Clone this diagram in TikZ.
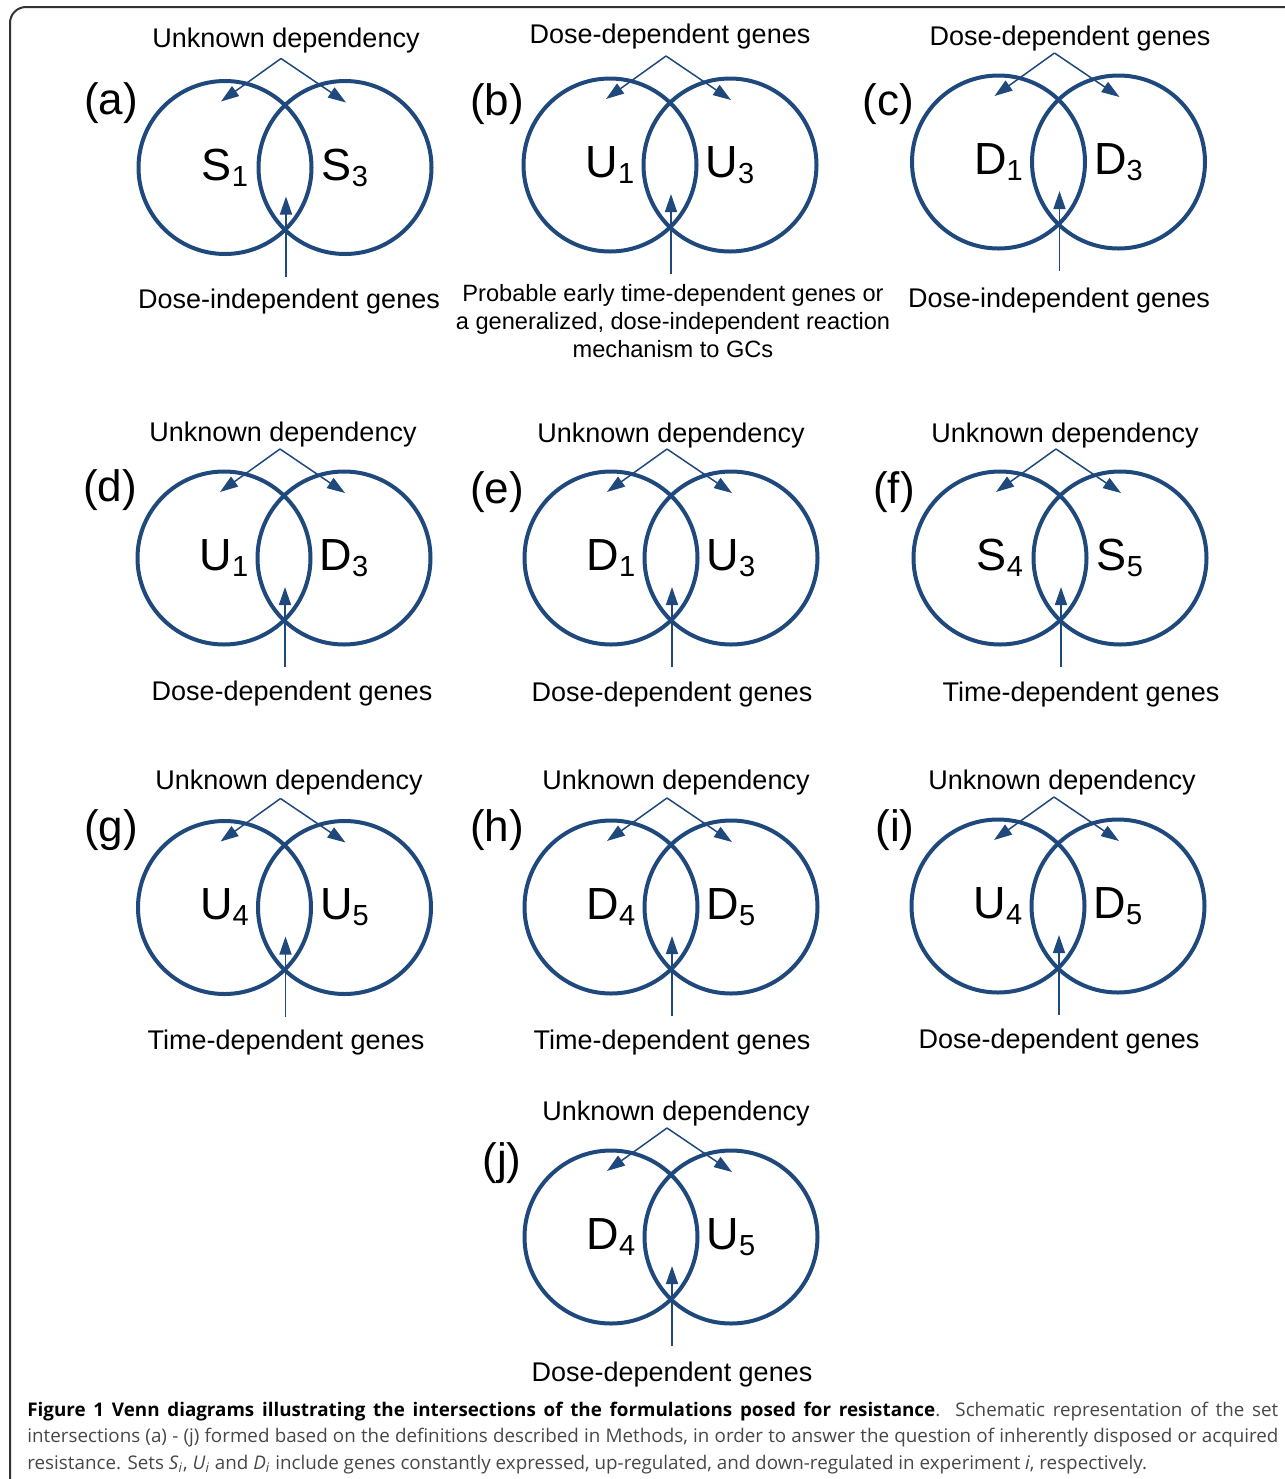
\documentclass[tikz,border=0pt]{standalone}
\usepackage{fontspec}
\setmainfont{Liberation Sans}
\newfontfamily\capfont{Open Sans}
\usepackage{xcolor}
\usetikzlibrary{arrows.meta}

\definecolor{vennblue}{RGB}{31,73,125}
\definecolor{framegray}{RGB}{51,51,51}

% set name with a lowered index
\newcommand{\setsub}[2]{#1\raisebox{-3pt}{\fontsize{14.5}{15}\selectfont #2}}
% two overlapping sets and their three pointers
\newcommand{\venn}[4]{%
  \coordinate (#1) at #2;
  \node[ring] (#1-L) at ([xshift=-30pt]#1) {};
  \node[ring] (#1-R) at ([xshift=30pt]#1) {};
  \node[setname] (#1-l) at (#1-L) {#3};
  \node[setname] (#1-r) at (#1-R) {#4};
  \coordinate (#1-apex) at ([shift={(-4,-109)}]#1);
  \coordinate (#1-tl) at ([shift={(-64,-66)}]#1);
  \coordinate (#1-tr) at ([shift={(61,-65)}]#1);
  \coordinate (#1-foot) at ([shift={(1,109)}]#1);
  \coordinate (#1-hit) at ([shift={(1,29)}]#1);
  \draw[pointer] (#1-apex) -- (#1-tl);
  \draw[pointer] (#1-apex) -- (#1-tr);
  \draw[pointer] (#1-foot) -- (#1-hit);
}

\begin{document}
\begin{tikzpicture}[x=0.5pt, y=-0.5pt, >={Triangle[length=9pt,width=6pt]}]

	\tikzstyle{ring}=[circle, draw=vennblue, line width=2pt, minimum size=86.5pt, inner sep=0pt]
	\tikzstyle{setname}=[font=\fontsize{22.5}{24}\selectfont, inner sep=0pt]
	\tikzstyle{panel}=[font=\fontsize{22}{24}\selectfont, inner sep=0pt]
	\tikzstyle{note}=[font=\fontsize{13.5}{14}\selectfont, inner sep=0pt, align=center, yshift=-1.5pt]
	\tikzstyle{pointer}=[->, draw=vennblue, line width=0.75pt]

	\clip (0,0) rectangle (1285,1479);
	% frame, open to the right and below
	\draw[framegray, line width=1pt, rounded corners=8pt] (10,7) rectangle (1330,1530);

	% (a)
	\venn{a}{(285,167.5)}{\setsub{S}{1}}{\setsub{S}{3}}
	\node[panel] (a-tag) at (111,103) {(a)};
	\node[note] (a-top) at (286,38) {Unknown dependency};
	\node[note] (a-bot) at (289,299) {Dose-independent genes};

	% (b)
	\venn{b}{(670,165)}{\setsub{U}{1}}{\setsub{U}{3}}
	\node[panel] (b-tag) at (497,104) {(b)};
	\node[note] (b-top) at (670,34) {Dose-dependent genes};
	\node[note, font=\fontsize{11.8}{14}\selectfont] (b-bot) at (673,318) {Probable early time-dependent genes or\\
		a generalized, dose-independent reaction\\ mechanism to GCs};

	% (c)
	\venn{c}{(1058.5,162)}{\setsub{D}{1}}{\setsub{D}{3}}
	\node[panel] (c-tag) at (888,104) {(c)};
	\node[note] (c-top) at (1070,36) {Dose-dependent genes};
	\node[note] (c-bot) at (1059,298) {Dose-independent genes};

	% (d)
	\venn{d}{(284,558)}{\setsub{U}{1}}{\setsub{D}{3}}
	\node[panel] (d-tag) at (110,490) {(d)};
	\node[note] (d-top) at (283,432) {Unknown dependency};
	\node[note] (d-bot) at (292,691) {Dose-dependent genes};

	% (e)
	\venn{e}{(671,558)}{\setsub{D}{1}}{\setsub{U}{3}}
	\node[panel] (e-tag) at (497,492) {(e)};
	\node[note] (e-top) at (671,433) {Unknown dependency};
	\node[note] (e-bot) at (672,692) {Dose-dependent genes};

	% (f)
	\venn{f}{(1060,558)}{\setsub{S}{4}}{\setsub{S}{5}}
	\node[panel] (f-tag) at (894,492) {(f)};
	\node[note] (f-top) at (1065,433) {Unknown dependency};
	\node[note] (f-bot) at (1081,692) {Time-dependent genes};

	% (g)
	\venn{g}{(284.5,907.5)}{\setsub{U}{4}}{\setsub{U}{5}}
	\node[panel] (g-tag) at (111,830) {(g)};
	\node[note] (g-top) at (289,780) {Unknown dependency};
	\node[note] (g-bot) at (286,1040) {Time-dependent genes};

	% (h)
	\venn{h}{(671,907)}{\setsub{D}{4}}{\setsub{D}{5}}
	\node[panel] (h-tag) at (497,830) {(h)};
	\node[note] (h-top) at (676,780) {Unknown dependency};
	\node[note] (h-bot) at (672,1040) {Time-dependent genes};

	% (i)
	\venn{i}{(1058,906)}{\setsub{U}{4}}{\setsub{D}{5}}
	\node[panel] (i-tag) at (895,830) {(i)};
	\node[note] (i-top) at (1062,780) {Unknown dependency};
	\node[note] (i-bot) at (1059,1039) {Dose-dependent genes};

	% (j)
	\venn{j}{(671,1237)}{\setsub{D}{4}}{\setsub{U}{5}}
	\node[panel] (j-tag) at (502,1163) {(j)};
	\node[note] (j-top) at (676,1111) {Unknown dependency};
	\node[note] (j-bot) at (672,1371) {Dose-dependent genes};

	% figure caption
	\node[anchor=base west, text width=625.5pt, align=justify, inner sep=0pt,
		font=\capfont\fontsize{9.4}{13.25}\selectfont, text=black!72] (caption) at (27,1416)
		{{\bfseries\color{black}Figure 1 Venn diagrams illustrating the intersections of the formulations posed for resistance}. Schematic representation of the set\linebreak
		intersections (a) - (j) formed based on the definitions described in Methods, in order to answer the question of inherently disposed or acquired\linebreak
		resistance. Sets \textit{S}\textsubscript{\textit{i}}, \textit{U}\textsubscript{\textit{i}} and \textit{D}\textsubscript{\textit{i}} include genes constantly expressed, up-regulated, and down-regulated in experiment \textit{i}, respectively.};

\end{tikzpicture}
\end{document}
